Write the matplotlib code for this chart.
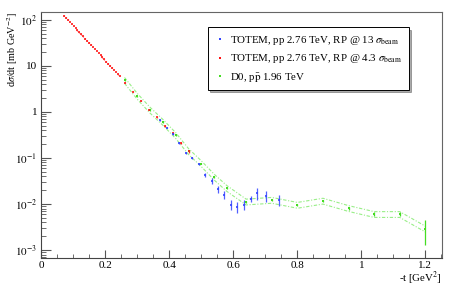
import numpy as np
import matplotlib
matplotlib.use("Agg")
import matplotlib.pyplot as plt
from matplotlib.lines import Line2D
from matplotlib.ticker import FixedLocator, MultipleLocator

plt.rcParams['font.family'] = ['Liberation Serif', 'DejaVu Serif']
plt.rcParams['mathtext.fontset'] = 'stix'

# TOTEM, RP @ 4.3 sigma (red)
t_red = [0.071, 0.077, 0.083, 0.089, 0.095, 0.101, 0.107, 0.113, 0.119, 0.125,
         0.131, 0.137, 0.143, 0.149, 0.155, 0.161, 0.167, 0.173, 0.179, 0.185,
         0.191, 0.197, 0.203, 0.209, 0.215, 0.221, 0.227, 0.233, 0.239, 0.245,
         0.260, 0.286, 0.311, 0.337, 0.362, 0.387, 0.412, 0.437, 0.462]
ds_red = [123, 111, 100, 90, 81, 73, 66, 59.5, 53.6, 48.3,
          43.5, 39.2, 35.3, 31.8, 28.7, 25.8, 23.3, 21.0, 18.9, 17.0,
          15.3, 13.8, 12.4, 11.2, 10.1, 9.1, 8.2, 7.4, 6.6, 6.0,
          4.3, 2.75, 1.75, 1.12, 0.76, 0.50, 0.35, 0.21, 0.14]
err_red = [2, 2, 1.8, 1.6, 1.4, 1.2, 1.1, 1.0, 0.9, 0.8,
           0.7, 0.6, 0.55, 0.5, 0.45, 0.4, 0.36, 0.33, 0.3, 0.27,
           0.24, 0.22, 0.2, 0.18, 0.16, 0.15, 0.14, 0.13, 0.12, 0.11,
           0.1, 0.07, 0.05, 0.035, 0.025, 0.02, 0.015, 0.012, 0.012]

# TOTEM, RP @ 13 sigma (blue)
t_blue = [0.371, 0.392, 0.410, 0.430, 0.451, 0.472, 0.493, 0.512, 0.532,
          0.552, 0.571, 0.592, 0.613, 0.633, 0.654, 0.673, 0.702, 0.742]
ds_blue = [0.67, 0.46, 0.33, 0.21, 0.13, 0.099, 0.074, 0.043, 0.032,
           0.021, 0.016, 0.0097, 0.0087, 0.0098, 0.013, 0.0175, 0.015, 0.0125]
err_blue = [0.02, 0.015, 0.012, 0.009, 0.007, 0.006, 0.005, 0.004, 0.004,
            0.0035, 0.003, 0.0024, 0.0022, 0.0024, 0.002, 0.005, 0.004, 0.0035]

# D0, ppbar 1.96 TeV (green)
t_d0 = [0.26, 0.30, 0.34, 0.38, 0.42, 0.46, 0.50, 0.54, 0.58, 0.64, 0.72,
        0.80, 0.88, 0.96, 1.04, 1.12, 1.20]
ds_d0 = [4.9, 2.2, 1.1, 0.6, 0.31, 0.14, 0.076, 0.039, 0.022, 0.0112, 0.0122,
         0.0095, 0.0117, 0.0081, 0.0060, 0.0060, 0.0029]
err_d0 = [0.15, 0.06, 0.03, 0.017, 0.01, 0.005, 0.003, 0.0017, 0.0011, 0.0006,
          0.0007, 0.0006, 0.0008, 0.0006, 0.0006, 0.0006, 0.0016]
d0_norm = 0.144

labels = ['TOTEM, pp 2.76 TeV, RP @ 13 $\\sigma_{\\rm beam}$',
          'TOTEM, pp 2.76 TeV, RP @ 4.3 $\\sigma_{\\rm beam}$',
          'D0, p$\\bar{\\rm p}$ 1.96 TeV']

W, H = 459, 291
fig = plt.figure(figsize=(W / 100, H / 100), dpi=100)
ax = fig.add_axes([41.3 / W, 1 - 258 / H, (442 - 41.3) / W, (258 - 12) / H])

c_red = '#ff1010'
c_blue = '#3344ff'
c_green = '#44dd22'
c_band = '#99ee88'

d0 = np.array(ds_d0)
ax.plot(t_d0, d0 * (1 + d0_norm), color=c_band, lw=0.8, ls=(0, (3, 1.5, 1, 1.5)))
ax.plot(t_d0, d0 * (1 - d0_norm), color=c_band, lw=0.8, ls=(0, (3, 1.5, 1, 1.5)))
ax.errorbar(t_d0, ds_d0, yerr=err_d0, fmt='s', ms=1.6, color=c_green,
            elinewidth=0.9, capsize=0, mew=0)
ax.errorbar(t_red, ds_red, yerr=err_red, fmt='s', ms=1.6, color=c_red,
            elinewidth=0.9, capsize=0, mew=0, alpha=0.8)
ax.errorbar(t_blue, ds_blue, yerr=err_blue, fmt='s', ms=1.6, color=c_blue,
            elinewidth=0.9, capsize=0, mew=0, alpha=0.85)

ax.set_yscale('log')
ax.set_xlim(0, 1.252)
ax.set_ylim(10 ** -3.17, 10 ** 2.17)

ax.xaxis.set_major_locator(FixedLocator([0, 0.2, 0.4, 0.6, 0.8, 1.0, 1.2]))
ax.set_xticklabels(['0', '0.2', '0.4', '0.6', '0.8', '1', '1.2'])
ax.xaxis.set_minor_locator(MultipleLocator(0.05))
ax.yaxis.set_major_locator(FixedLocator([1e-3, 1e-2, 1e-1, 1, 10, 100]))
ax.set_yticklabels(['$10^{-3}$', '$10^{-2}$', '$10^{-1}$', '1', '10', '$10^{2}$'])
minors = [m * 10.0 ** e for e in range(-4, 3) for m in range(2, 10)]
ax.yaxis.set_minor_locator(FixedLocator(minors))
ax.tick_params(axis='both', which='both', direction='in', colors='#555555',
               labelcolor='black', labelsize=8, top=False, right=False)
ax.tick_params(axis='x', which='major', length=5.5, width=0.8, pad=2)
ax.tick_params(axis='x', which='minor', length=3, width=0.6)
ax.tick_params(axis='y', which='major', length=7, width=0.8, pad=3)
ax.tick_params(axis='y', which='minor', length=3.5, width=0.6)
for s in ['left', 'bottom']:
    ax.spines[s].set_color('#444444')
    ax.spines[s].set_linewidth(0.8)
for s in ['top', 'right']:
    ax.spines[s].set_color('#666666')
    ax.spines[s].set_linewidth(0.8)

fig.text(13 / W, 1 - 12 / H, 'd$\\sigma$/dt [mb GeV$^{-2}$]', rotation=90,
         ha='center', va='top', fontsize=7.3)
fig.text(442 / W, 1 - 278 / H, '-t [GeV$^{2}$]', ha='right', va='center',
         fontsize=7.8)

handles = [Line2D([], [], marker='s', ls='none', ms=1.6, mew=0, color=c_blue),
           Line2D([], [], marker='s', ls='none', ms=1.6, mew=0, color=c_red),
           Line2D([], [], marker='s', ls='none', ms=1.6, mew=0, color=c_green)]
leg = fig.legend(handles, labels, loc='center',
                 bbox_to_anchor=(207.7 / W, 1 - 91.7 / H, 201.6 / W, 65.7 / H),
                 mode='expand', borderaxespad=0, fontsize=7.8,
                 labelspacing=0.5, borderpad=0.6, handlelength=1.0,
                 handletextpad=0.5, fancybox=False,
                 shadow={'ox': 1.5, 'oy': -1.5, 'color': '0.35'})
leg.get_frame().set_edgecolor('black')
leg.get_frame().set_linewidth(0.7)

fig.savefig('out.png', dpi=100)
